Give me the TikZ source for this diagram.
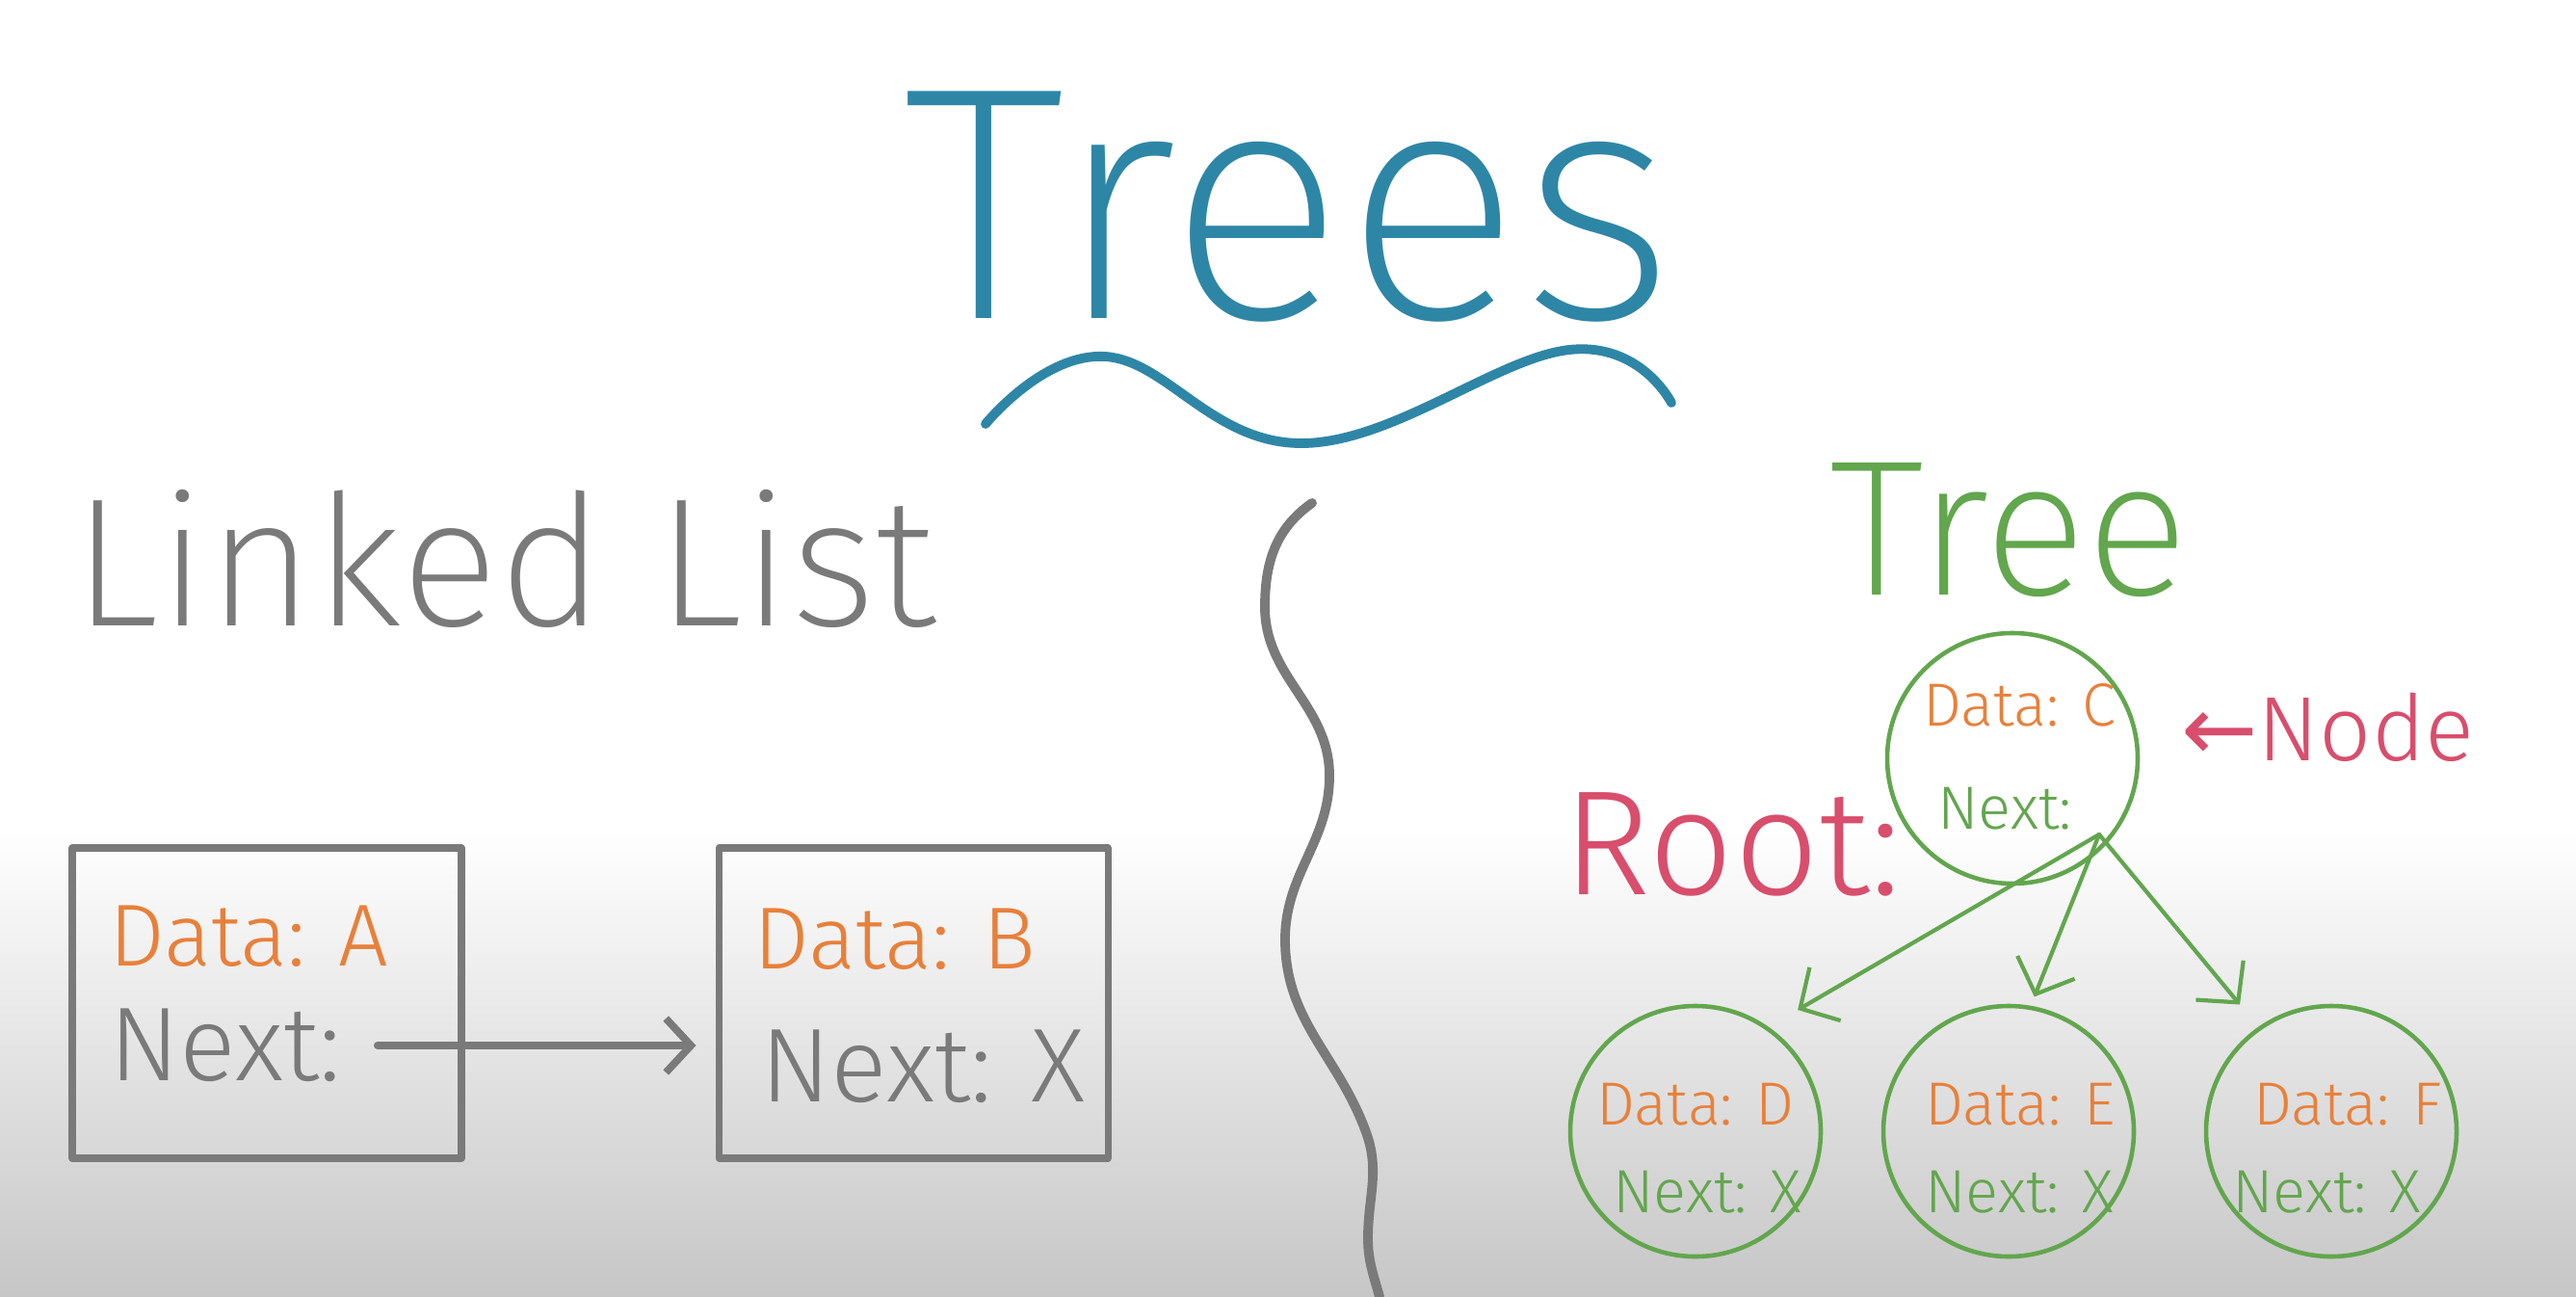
\documentclass[tikz,border=0pt]{standalone}
\usepackage{fontspec}
\setmainfont{Fira Sans Light}
\newfontfamily\thinfont{Fira Sans ExtraLight}
\newfontfamily\arrowfont{DejaVu Sans}
\usetikzlibrary{arrows.meta, positioning}

\definecolor{titleblue}{RGB}{46,134,166}
\definecolor{pengray}{RGB}{122,122,122}
\definecolor{penorange}{RGB}{232,128,58}
\definecolor{pengreen}{RGB}{98,166,78}
\definecolor{penred}{RGB}{216,78,108}
\definecolor{bgmid}{RGB}{214,214,214}
\definecolor{bggray}{RGB}{198,198,198}

\tikzset{
  listbox/.style={draw=pengray, line width=2pt, rectangle, minimum width=4.04cm, minimum height=3.22cm},
  treecircle/.style={draw=pengreen, line width=1.3pt, circle, minimum size=2.6cm},
  listdata/.style={text=penorange, font=\fontsize{26}{26}\selectfont, inner sep=2pt},
  listnext/.style={text=pengray, font=\fontsize{31}{31}\selectfont, inner sep=2pt},
  treedata/.style={text=penorange, font=\fontsize{18}{18}\selectfont, inner sep=1pt},
  treenext/.style={text=pengreen, font=\fontsize{18}{18}\selectfont, inner sep=1pt},
  listarrow/.style={->, draw=pengray, line width=2.2pt},
  treearrow/.style={-{Straight Barb[length=3mm,width=6.4mm]}, draw=pengreen, line width=1.2pt}
}

\begin{document}
\begin{tikzpicture}[>={Straight Barb[length=2.6mm,width=5.6mm]}, line cap=round, line join=round]
    \useasboundingbox (0,0) rectangle (26.74,-13.46);
    % paper
    \fill[white] (0,0) rectangle (26.74,-8.6);
    \shade[top color=white, middle color=bgmid, bottom color=bggray] (0,-8.6) rectangle (26.74,-13.46);

    % heading
    \node [text=titleblue, font=\thinfont\fontsize{98}{98}\selectfont] (title) at (13.38,-2.15) {Trees};
    \draw [titleblue, line width=2.8pt] plot [smooth, tension=0.7] coordinates {(10.23,-4.40) (11.47,-3.70) (13.53,-4.60) (16.29,-3.63) (17.35,-4.18)};

    % divider
    \draw [pengray, line width=2.8pt] (13.62,-5.22) to[out=215,in=90] (13.13,-6.30)
        to[out=-90,in=90] (13.80,-8.05) to[out=-90,in=90] (13.34,-9.75)
        to[out=-90,in=110] (14.18,-11.75) to[out=-70,in=90] (14.20,-12.85)
        to[out=-90,in=105] (14.32,-13.46);

    % linked list
    \node [text=pengray, font=\thinfont\fontsize{54}{54}\selectfont] (listtitle) at (5.24,-5.80) {Linked List};
    \node [listbox] (lista) at (2.77,-10.41) {};
    \node [listbox, right=2.6cm of lista] (listb) {};
    \node [listdata, anchor=west] (dataa) at ([shift={(0.34,0.69)}]lista.west) {Data: A};
    \node [listnext, anchor=west] (nexta) at ([shift={(0.34,-0.44)}]lista.west) {Next:};
    \node [listdata, anchor=west] (datab) at ([shift={(0.32,0.66)}]listb.west) {Data: B};
    \node [listnext, anchor=west] (nextb) at ([shift={(0.39,-0.66)}]listb.west) {Next: X};
    \draw [listarrow, shorten <=0.3cm, shorten >=0.2cm] (nexta) -- (nexta -| listb.west);

    % tree
    \node [text=pengreen, font=\thinfont\fontsize{57}{57}\selectfont] (treetitle) at (20.86,-5.50) {Tree};
    \node [treecircle] (root) at (20.89,-7.87) {};
    \node [treedata] (datac) at ([shift={(0.07,0.55)}]root.center) {Data: C};
    \node [treenext] (nextc) at ([shift={(-0.08,-0.52)}]root.center) {Next:};
    \coordinate (rootptr) at ([shift={(0.9,-0.79)}]root.center);
    \node [text=penred, font=\fontsize{44}{44}\selectfont] (rootlabel) at (17.98,-8.76) {Root:};
    \node [text=penred, font=\fontsize{27}{27}\selectfont, anchor=west] (nodelabel) at (22.52,-7.55) {{\arrowfont ←}Node};

    \node [treecircle] (d) at (17.60,-11.74) {};
    \node [treecircle] (e) at (20.85,-11.74) {};
    \node [treecircle] (f) at (24.20,-11.74) {};
    \node [treedata] (datad) at ([yshift=0.28cm]d.center) {Data: D};
    \node [treenext] (nextd) at ([shift={(0.12,-0.63)}]d.center) {Next: X};
    \node [treedata] (datae) at ([shift={(0.12,0.28)}]e.center) {Data: E};
    \node [treenext] (nexte) at ([shift={(0.11,-0.63)}]e.center) {Next: X};
    \node [treedata] (dataf) at ([shift={(0.17,0.28)}]f.center) {Data: F};
    \node [treenext] (nextf) at ([shift={(-0.05,-0.63)}]f.center) {Next: X};

    \draw [treearrow, shorten >=0.35cm] (rootptr) -- (d.55);
    \draw [treearrow, shorten >=0.1cm] (rootptr) -- (e.80);
    \draw [treearrow, shorten >=0.3cm] (rootptr) -- (f.125);
\end{tikzpicture}
\end{document}
